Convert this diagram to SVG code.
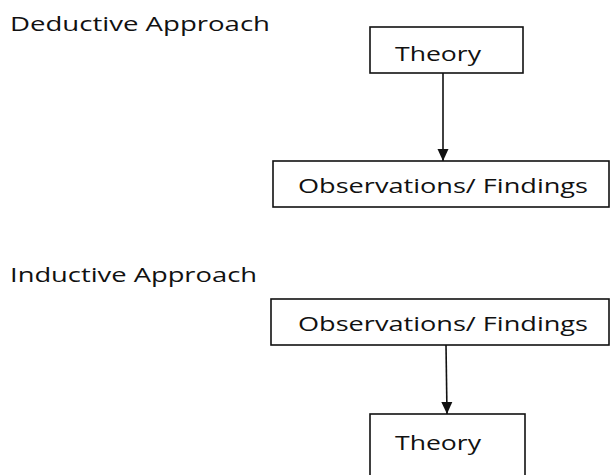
<svg xmlns="http://www.w3.org/2000/svg" width="610" height="475" viewBox="0 0 610 475">
<defs>
<style>
text { font-family: "Open Sans", "DejaVu Sans", sans-serif; fill: #111; font-size: 20px; }
.box { fill: #fff; stroke: #111; stroke-width: 1.6; }
.conn { stroke: #111; stroke-width: 1.6; fill: none; }
</style>
<marker id="arrow" viewBox="0 0 12 12" refX="12" refY="6" markerWidth="12" markerHeight="12" markerUnits="userSpaceOnUse" orient="auto">
<path d="M0,0.5 L12,6 L0,11.5 z" fill="#111"/>
</marker>
</defs>
<rect width="610" height="475" fill="#fff"/>
<text id="title-deductive" x="10" y="31" textLength="260" lengthAdjust="spacingAndGlyphs">Deductive Approach</text>
<text id="title-inductive" x="10" y="282" textLength="247" lengthAdjust="spacingAndGlyphs">Inductive Approach</text>
<g id="connectors">
<line class="conn" x1="443" y1="73" x2="443" y2="161" marker-end="url(#arrow)"/>
<line class="conn" x1="446" y1="345" x2="447" y2="414" marker-end="url(#arrow)"/>
</g>
<g id="d-theory">
<rect class="box" x="370" y="27" width="153" height="46"/>
<text x="395" y="61" textLength="86" lengthAdjust="spacingAndGlyphs">Theory</text>
</g>
<g id="d-observations">
<rect class="box" x="273" y="161" width="336" height="46"/>
<text x="298" y="193" textLength="290" lengthAdjust="spacingAndGlyphs">Observations/ Findings</text>
</g>
<g id="i-observations">
<rect class="box" x="271" y="299" width="338" height="46"/>
<text x="298" y="331" textLength="290" lengthAdjust="spacingAndGlyphs">Observations/ Findings</text>
</g>
<g id="i-theory">
<rect class="box" x="370" y="414" width="155" height="70"/>
<text x="395" y="450" textLength="86" lengthAdjust="spacingAndGlyphs">Theory</text>
</g>
</svg>
